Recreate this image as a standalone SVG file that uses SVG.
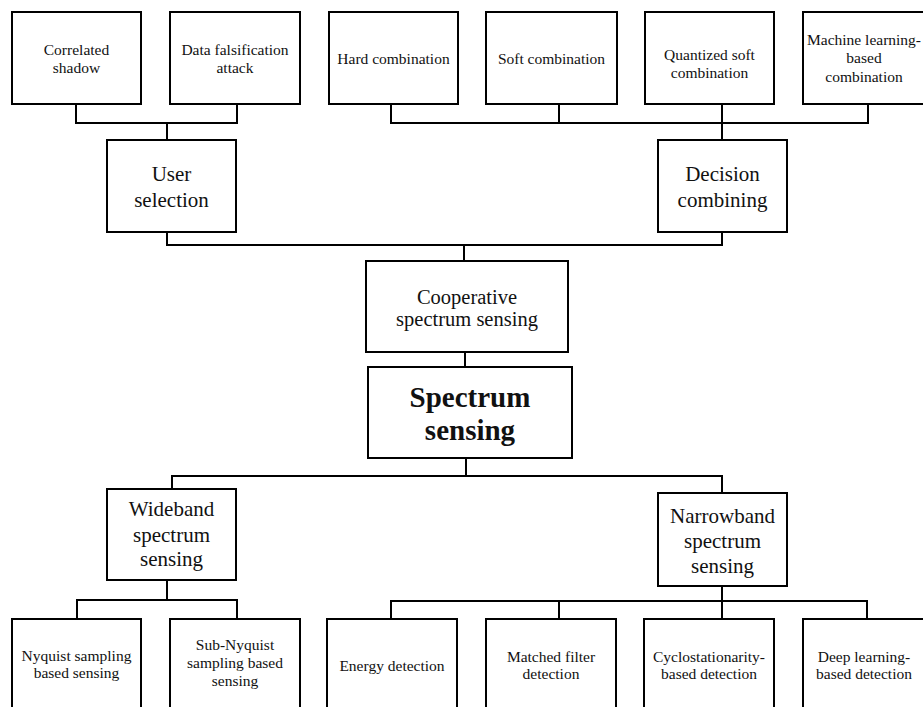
<svg xmlns="http://www.w3.org/2000/svg" width="923" height="707" viewBox="0 0 923 707">
<style>
.box{fill:#fff;stroke:#000;stroke-width:2}
.ln{fill:none;stroke:#000;stroke-width:2}
text{font-family:"Liberation Serif","Times New Roman",serif;fill:#111;text-anchor:middle}
.s{font-size:15.5px}
.m{font-size:20.5px}
.l{font-size:21px}
.b{font-size:29px;font-weight:bold}
</style>
<rect width="923" height="707" fill="#fff"/>
<g id="connectors">
<path class="ln" d="M76,104V123H237V104M167,123V140"/>
<path class="ln" d="M391,104V123H868V104M559,104V123M722,104V140"/>
<path class="ln" d="M167,232V245H722V232M464,245V261"/>
<path class="ln" d="M465,352V367"/>
<path class="ln" d="M466,458V476M172,489V476H722V493"/>
<path class="ln" d="M167,580V600M77,619V600H237V619"/>
<path class="ln" d="M722,586V601M391,619V601H867V619M559,601V619M722,601V619"/>
</g>
<g id="correlated-shadow"><rect class="box" x="12" y="12" width="129" height="92"/><text class="s" x="76.5" y="55">Correlated</text><text class="s" x="76.5" y="72.5">shadow</text></g>
<g id="data-falsification"><rect class="box" x="170" y="12" width="130" height="92"/><text class="s" x="235" y="55">Data falsification</text><text class="s" x="235" y="72.5">attack</text></g>
<g id="hard-combination"><rect class="box" x="329" y="12" width="129" height="92"/><text class="s" x="393.5" y="64">Hard combination</text></g>
<g id="soft-combination"><rect class="box" x="486" y="12" width="131" height="92"/><text class="s" x="551.5" y="64">Soft combination</text></g>
<g id="quantized-soft"><rect class="box" x="645" y="12" width="129" height="92"/><text class="s" x="709.5" y="60">Quantized soft</text><text class="s" x="709.5" y="77.5">combination</text></g>
<g id="ml-combination"><rect class="box" x="803" y="12" width="129" height="92"/><text class="s" x="864" y="45">Machine learning-</text><text class="s" x="864" y="63">based</text><text class="s" x="864" y="81.5">combination</text></g>
<g id="user-selection"><rect class="box" x="107" y="140" width="129" height="92"/><text class="l" x="171.5" y="181">User</text><text class="l" x="171.5" y="206.5">selection</text></g>
<g id="decision-combining"><rect class="box" x="658" y="140" width="129" height="92"/><text class="l" x="722.5" y="181">Decision</text><text class="l" x="722.5" y="206.5">combining</text></g>
<g id="cooperative"><rect class="box" x="366" y="261" width="202" height="91"/><text class="m" x="467" y="304">Cooperative</text><text class="m" x="467" y="326">spectrum sensing</text></g>
<g id="spectrum-sensing"><rect class="box" x="368" y="367" width="204" height="91"/><text class="b" x="470" y="407">Spectrum</text><text class="b" x="470" y="440">sensing</text></g>
<g id="wideband"><rect class="box" x="107" y="489" width="129" height="91"/><text class="l" x="171.5" y="516">Wideband</text><text class="l" x="171.5" y="541.5">spectrum</text><text class="l" x="171.5" y="566">sensing</text></g>
<g id="narrowband"><rect class="box" x="658" y="493" width="129" height="93"/><text class="l" x="722.5" y="522.5">Narrowband</text><text class="l" x="722.5" y="547.5">spectrum</text><text class="l" x="722.5" y="572.5">sensing</text></g>
<g id="nyquist"><rect class="box" x="12" y="619" width="129" height="110"/><text class="s" x="76.5" y="661">Nyquist sampling</text><text class="s" x="76.5" y="678">based sensing</text></g>
<g id="sub-nyquist"><rect class="box" x="170" y="619" width="130" height="110"/><text class="s" x="235" y="650">Sub-Nyquist</text><text class="s" x="235" y="668">sampling based</text><text class="s" x="235" y="686">sensing</text></g>
<g id="energy"><rect class="box" x="327" y="619" width="130" height="110"/><text class="s" x="392" y="671">Energy detection</text></g>
<g id="matched-filter"><rect class="box" x="486" y="619" width="130" height="110"/><text class="s" x="551" y="662">Matched filter</text><text class="s" x="551" y="679">detection</text></g>
<g id="cyclostationarity"><rect class="box" x="644" y="619" width="130" height="110"/><text class="s" x="709" y="662">Cyclostationarity-</text><text class="s" x="709" y="679">based detection</text></g>
<g id="deep-learning"><rect class="box" x="803" y="619" width="129" height="110"/><text class="s" x="864" y="662">Deep learning-</text><text class="s" x="864" y="679">based detection</text></g>
</svg>
